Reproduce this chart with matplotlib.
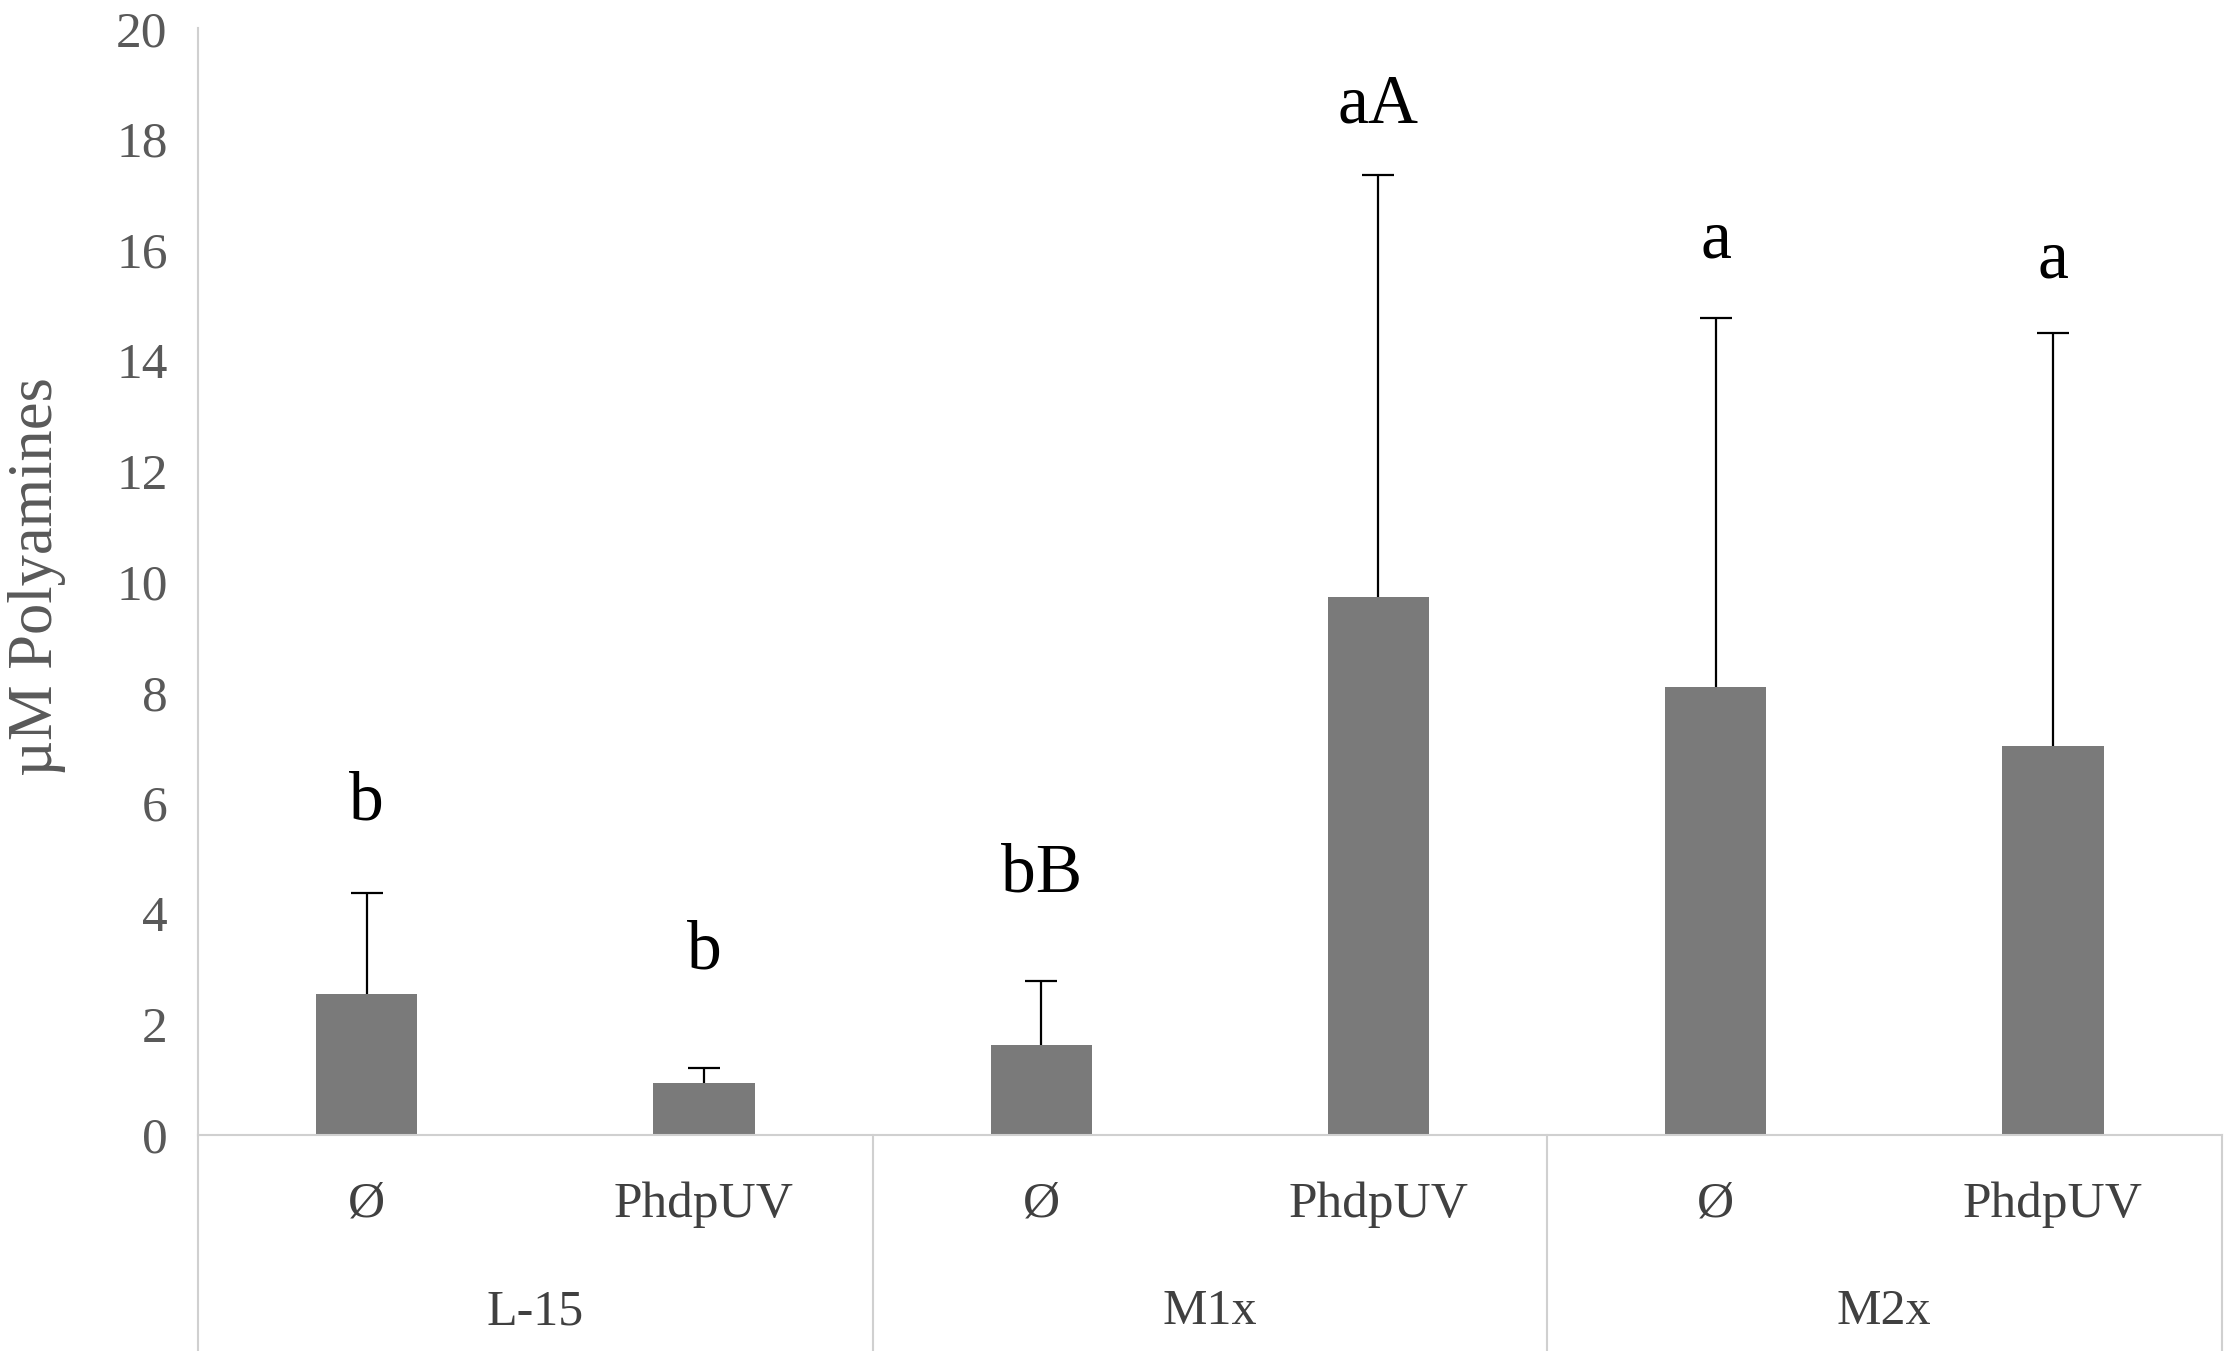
import matplotlib.pyplot as plt

# data
groups = ["L-15", "M1x", "M2x"]
treatments = ["Ø", "PhdpUV", "Ø", "PhdpUV", "Ø", "PhdpUV"]
means = [2.55, 0.93, 1.62, 9.72, 8.10, 7.02]
err_up = [1.82, 0.28, 1.16, 7.63, 6.66, 7.48]
letters = ["b", "b", "bB", "aA", "a", "a"]
letter_y = [5.7, 3.0, 4.4, 18.3, 15.85, 15.5]

plt.rcParams['font.family'] = ['Liberation Serif', 'DejaVu Serif']

fig = plt.figure(figsize=(22.26, 13.51), dpi=100)
ax = fig.add_axes([0.089, 0.16, 0.909, 0.819])

x = list(range(len(means)))
ax.bar(x, means, width=0.30, color="#7a7a7a", zorder=2)
eb = ax.errorbar(x, means, yerr=[[0] * len(means), err_up], fmt="none",
                 ecolor="black", elinewidth=1.6, capsize=11.5, capthick=1.6, zorder=3)
eb[1][0].set_visible(False)  # no cap at the bar top

for xi, lab, ly in zip(x, letters, letter_y):
    ax.text(xi, ly, lab, ha="center", va="baseline", fontsize=50, color="black")

ax.set_xlim(-0.5, len(means) - 0.5)
ax.set_ylim(0, 20)
ax.set_yticks(range(0, 21, 2))
ax.tick_params(axis="y", length=0, labelsize=37, labelcolor="#595959", pad=22)
ax.set_xticks([])

for s in ["top", "right"]:
    ax.spines[s].set_visible(False)
ax.spines["left"].set_color("#d0d0d0")
ax.spines["bottom"].set_color("#d0d0d0")
ax.spines["left"].set_linewidth(1.5)
ax.spines["bottom"].set_linewidth(1.5)

# category labels and group separators below the axis
tr = ax.get_xaxis_transform()
for xi, t in zip(x, treatments):
    ax.text(xi, -0.063, t, transform=tr, ha="center", va="center",
            fontsize=37, color="#404040")
for gi, g in enumerate(groups):
    ax.text(2 * gi + 0.5, -0.160, g, transform=tr, ha="center", va="center",
            fontsize=36, color="#404040")
for sep in [-0.5, 1.5, 3.5, 5.5]:
    ax.plot([sep, sep], [0, -0.3], transform=tr, color="#d0d0d0", lw=1.5,
            clip_on=False)

ax.set_ylabel("µM Polyamines", fontsize=45, color="#595959")
ax.yaxis.set_label_coords(-0.0655, 0.505)

fig.savefig("out.png", dpi=100)
